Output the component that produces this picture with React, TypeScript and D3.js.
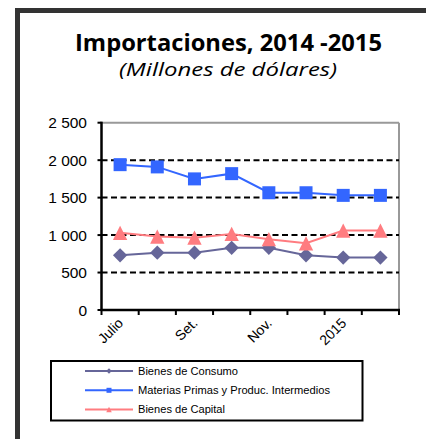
import React from "react";
import * as d3 from "d3";

const categories = ["Julio", "Ago.", "Set.", "Oct.", "Nov.", "Dic.", "2015", "Feb."];
const shownLabels = ["Julio", "Set.", "Nov.", "2015"];
const consumo = [730, 765, 765, 830, 830, 730, 700, 700];
const materias = [1940, 1910, 1750, 1820, 1565, 1565, 1530, 1530];
const capital = [1030, 980, 965, 1015, 945, 890, 1060, 1060];
const yTicks = [0, 500, 1000, 1500, 2000, 2500];

const seriesNames = ["Bienes de Consumo", "Materias Primas y Produc. Intermedios", "Bienes de Capital"];
const seriesColors = ["#666699", "#3366FF", "#FF7C80"];
const seriesData = [consumo, materias, capital];
const seriesMarkers = ["diamond", "square", "triangle"];
const legendTextLengths = [100, 192, 87];

const W = 426, H = 439;
const L = 101.5, R = 399, T = 122.7, B = 310;

function Marker({ type, x, y, s, color }: { type: string; x: number; y: number; s: number; color: string }) {
  if (type === "square") return <rect x={x - s / 2} y={y - s / 2} width={s} height={s} fill={color} />;
  if (type === "diamond") {
    const h = s * 0.55;
    return <path d={`M${x},${y - h}L${x + h},${y}L${x},${y + h}L${x - h},${y}Z`} fill={color} />;
  }
  const h = s * 0.55;
  return <path d={`M${x},${y - h}L${x + h},${y + h}L${x - h},${y + h}Z`} fill={color} />;
}

export default function App() {
  const x = d3.scaleBand<string>().domain(categories).range([L, R]);
  const y = d3.scaleLinear().domain([0, 2500]).range([B, T]);
  const fmt = (v: number) => d3.format(",")(v).replace(/,/g, " ");
  const line = d3.line<number>().x((_, i) => x(categories[i])! + x.bandwidth() / 2).y((d) => y(d));
  const boundaries = d3.range(categories.length + 1).map((i) => L + i * x.step());

  return (
    <svg width={W} height={H} style={{ position: "absolute", left: 0, top: 0, background: "#fff" }}>
      <rect x={15} y={8} width={W - 15} height={5} fill="#333" />
      <rect x={15} y={8} width={5} height={H - 8} fill="#333" />

      <text x={228.5} y={51} textAnchor="middle" fontFamily="Open Sans" fontWeight="bold" fontSize={23.5} fill="#000"
        textLength={307} lengthAdjust="spacingAndGlyphs">
        Importaciones, 2014 -2015
      </text>
      <text x={228} y={76} textAnchor="middle" fontFamily="Open Sans" fontStyle="italic" fontSize={18.5} fill="#000"
        textLength={218} lengthAdjust="spacingAndGlyphs">
        (Millones de dólares)
      </text>

      {/* plot border */}
      <line x1={L} x2={R} y1={T} y2={T} stroke="#999" strokeWidth={2} />
      <line x1={R} x2={R} y1={T} y2={B} stroke="#999" strokeWidth={2} />

      {yTicks.filter((v) => v > 0 && v < 2500).map((v) => (
        <line key={v} x1={L} x2={R} y1={y(v)} y2={y(v)} stroke="#000" strokeWidth={2} strokeDasharray="6,3.5" />
      ))}

      {yTicks.map((v) => (
        <g key={v}>
          <line x1={L - 4} x2={L} y1={y(v)} y2={y(v)} stroke="#000" strokeWidth={2} />
          <text x={87} y={y(v) + 5.5} textAnchor="end" fontFamily="Liberation Sans, Arial" fontSize={15.5} fill="#000">
            {fmt(v)}
          </text>
        </g>
      ))}

      <line x1={L} x2={L} y1={T - 1} y2={B + 1} stroke="#000" strokeWidth={2.5} />
      <line x1={L - 1} x2={R + 1} y1={B} y2={B} stroke="#000" strokeWidth={2.5} />
      {boundaries.map((bx, i) => (
        <line key={i} x1={bx} x2={bx} y1={B} y2={B + 5} stroke="#000" strokeWidth={2} />
      ))}

      {categories.map((c) =>
        shownLabels.includes(c) ? (
          <text
            key={c}
            transform={`translate(${x(c)! + x.bandwidth() / 2 + 4},${B + 14}) rotate(-45)`}
            textAnchor="end"
            fontFamily="Liberation Sans, Arial"
            fontSize={14}
            fill="#000"
          >
            {c}
          </text>
        ) : null
      )}

      {seriesData.map((data, si) => (
        <g key={si}>
          <path d={line(data)!} fill="none" stroke={seriesColors[si]} strokeWidth={2} />
          {data.map((v, i) => (
            <Marker key={i} type={seriesMarkers[si]} x={x(categories[i])! + x.bandwidth() / 2} y={y(v)} s={13} color={seriesColors[si]} />
          ))}
        </g>
      ))}

      {/* legend */}
      <rect x={51} y={361} width={311.5} height={59.5} fill="#fff" stroke="#000" strokeWidth={2} />
      {seriesNames.map((n, i) => {
        const ly = 371 + i * 19.3;
        return (
          <g key={n}>
            <line x1={85} x2={133} y1={ly} y2={ly} stroke={seriesColors[i]} strokeWidth={2} />
            <Marker type={seriesMarkers[i]} x={109} y={ly} s={5} color={seriesColors[i]} />
            <text x={138} y={ly + 3.5} fontFamily="Liberation Sans, Arial" fontSize={10} fill="#000"
              textLength={legendTextLengths[i]} lengthAdjust="spacingAndGlyphs">
              {n}
            </text>
          </g>
        );
      })}
    </svg>
  );
}
